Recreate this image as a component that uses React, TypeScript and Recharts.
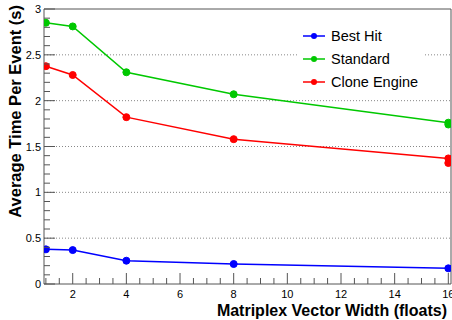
import { LineChart, Line, XAxis, YAxis, ReferenceLine, Legend } from 'recharts';

// Matriplex vector width (floats)
const widths = [1, 2, 4, 8, 16];
// Average time per event (s)
const bestHit = [0.378, 0.37, 0.254, 0.218, 0.171];
const standard = [2.85, 2.81, 2.31, 2.07, 1.76];
const cloneEngine = [2.376, 2.28, 1.82, 1.58, 1.37];
// second measurement at width 16
const extraWidth = [16];
const standardExtra = [1.74];
const cloneEngineExtra = [1.32];

const xTicks = [1, 1.5, 2, 2.5, 3, 3.5, 4, 4.5, 5, 5.5, 6, 6.5, 7, 7.5, 8, 8.5, 9, 9.5, 10, 10.5, 11, 11.5, 12, 12.5, 13, 13.5, 14, 14.5, 15, 15.5, 16];
const xLabels = [2, 4, 6, 8, 10, 12, 14, 16];
const yTicks = [0, 0.1, 0.2, 0.3, 0.4, 0.5, 0.6, 0.7, 0.8, 0.9, 1, 1.1, 1.2, 1.3, 1.4, 1.5, 1.6, 1.7, 1.8, 1.9, 2, 2.1, 2.2, 2.3, 2.4, 2.5, 2.6, 2.7, 2.8, 2.9, 3];
const yLabels = [0, 0.5, 1, 1.5, 2, 2.5, 3];
const gridValues = [0.5, 1, 1.5, 2, 2.5];

const seriesNames = ['Best Hit', 'Standard', 'Clone Engine'];
const seriesColors = ['#0000ff', '#00c800', '#ff0000'];

const data = widths.map((w, i) => ({
  w,
  bestHit: bestHit[i],
  standard: standard[i],
  clone: cloneEngine[i],
}));
const standardExtraData = extraWidth.map((w, i) => ({ w, standard: standardExtra[i] }));
const cloneExtraData = extraWidth.map((w, i) => ({ w, clone: cloneEngineExtra[i] }));

const FONT = '"Liberation Sans", Arial, Helvetica, sans-serif';
const AXIS = '#555';
const LEFT = 44;
const BOTTOM = 284;

const near = (a: number, b: number) => Math.abs(a - b) < 1e-6;

const YTick = (props: any) => {
  const { y, payload } = props;
  const v = payload.value;
  const major = yLabels.some((l) => near(l, v));
  return (
    <g>
      <line x1={LEFT} x2={LEFT + (major ? 11 : 6)} y1={y} y2={y} stroke={AXIS} />
      {major && (
        <text x={41} y={y} dy={4} textAnchor="end" fontSize={11} fontFamily={FONT} fill="#000">
          {v}
        </text>
      )}
    </g>
  );
};

const XTick = (props: any) => {
  const { x, payload } = props;
  const v = payload.value;
  const major = xLabels.some((l) => near(l, v));
  return (
    <g>
      <line x1={x} x2={x} y1={BOTTOM} y2={BOTTOM - (major ? 11 : 6)} stroke={AXIS} />
      {major && (
        <text x={x} y={298} textAnchor="middle" fontSize={11} fontFamily={FONT} fill="#000">
          {v}
        </text>
      )}
    </g>
  );
};

const YTitle = () => (
  <text
    transform="translate(21,5) rotate(-90)"
    textAnchor="end"
    fontSize={16.5}
    fontWeight="bold"
    fontFamily={FONT}
    fill="#000"
  >
    Average Time Per Event (s)
  </text>
);

const XTitle = () => (
  <text x={447} y={316} textAnchor="end" fontSize={16} fontWeight="bold" fontFamily={FONT} fill="#000">
    Matriplex Vector Width (floats)
  </text>
);

const renderLegend = () => (
  <div style={{ fontFamily: FONT, fontSize: 14.5, color: '#000' }}>
    {seriesNames.map((name, i) => (
      <div key={name} style={{ position: 'relative', height: 23 }}>
        <svg width={30} height={22} style={{ position: 'absolute', left: 0, top: 0 }}>
          <line x1={5} x2={27} y1={11} y2={11} stroke={seriesColors[i]} strokeWidth={1.5} />
          <circle cx={16} cy={11} r={3} fill={seriesColors[i]} />
        </svg>
        <span style={{ position: 'absolute', left: 33, top: 2, lineHeight: '18px', whiteSpace: 'nowrap' }}>{name}</span>
      </div>
    ))}
  </div>
);

export default function App() {
  const dot = (c: string) => ({ r: 3.5, fill: c, stroke: c, strokeWidth: 1 });
  return (
    <div style={{ position: 'absolute', left: 0, top: 0, width: 452, height: 320, background: '#fff' }}>
      <LineChart width={452} height={320} data={data} margin={{ top: 9, right: 1, left: 8, bottom: 6 }}>
        <XAxis
          dataKey="w"
          type="number"
          domain={[0.93, 16.1]}
          ticks={xTicks}
          interval={0}
          tick={<XTick />}
          tickLine={false}
          axisLine={{ stroke: AXIS }}
          height={30}
          allowDataOverflow
          label={<XTitle />}
        />
        <YAxis
          type="number"
          domain={[0, 3]}
          ticks={yTicks}
          interval={0}
          tick={<YTick />}
          tickLine={false}
          axisLine={{ stroke: AXIS }}
          width={36}
          allowDataOverflow
          label={<YTitle />}
        />
        {gridValues.map((v) => (
          <ReferenceLine key={v} y={v} stroke="#888" strokeDasharray="1 2" />
        ))}
        <ReferenceLine y={3} stroke={AXIS} />
        <ReferenceLine x={16.1} stroke={AXIS} />
        <Legend
          content={renderLegend}
          verticalAlign="middle"
          align="center"
          wrapperStyle={{ left: 298, top: 25, width: 127, height: 70, background: '#fff' }}
        />
        <Line dataKey="bestHit" name="Best Hit" stroke={seriesColors[0]} strokeWidth={1.5} dot={dot(seriesColors[0])} isAnimationActive={false} />
        <Line dataKey="standard" name="Standard" stroke={seriesColors[1]} strokeWidth={1.5} dot={dot(seriesColors[1])} isAnimationActive={false} />
        <Line dataKey="clone" name="Clone Engine" stroke={seriesColors[2]} strokeWidth={1.5} dot={dot(seriesColors[2])} isAnimationActive={false} />
        <Line data={standardExtraData} dataKey="standard" legendType="none" stroke={seriesColors[1]} dot={dot(seriesColors[1])} isAnimationActive={false} />
        <Line data={cloneExtraData} dataKey="clone" legendType="none" stroke={seriesColors[2]} dot={dot(seriesColors[2])} isAnimationActive={false} />
      </LineChart>
    </div>
  );
}
